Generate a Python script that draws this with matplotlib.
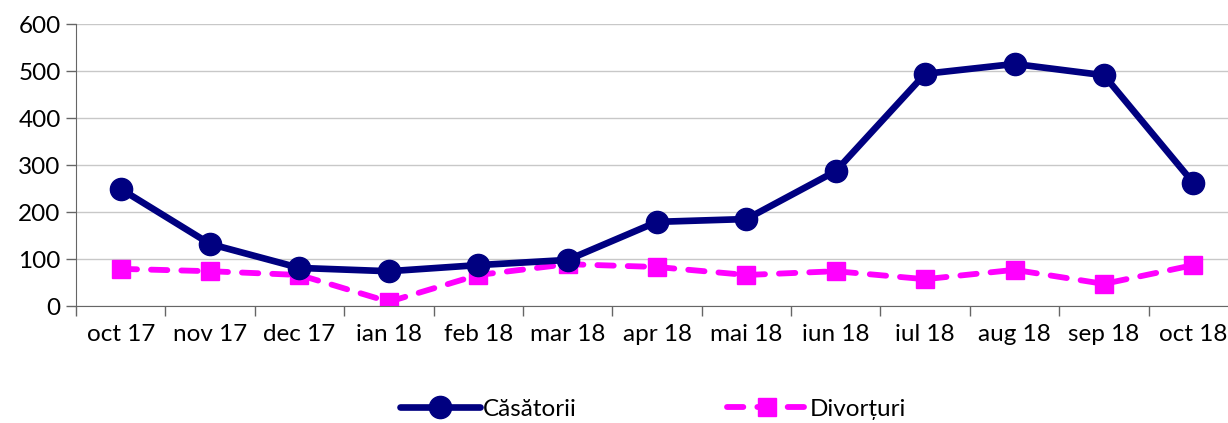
import matplotlib
matplotlib.use("Agg")
import matplotlib.pyplot as plt

categories = ["oct 17", "nov 17", "dec 17", "ian 18", "feb 18", "mar 18", "apr 18",
              "mai 18", "iun 18", "iul 18", "aug 18", "sep 18", "oct 18"]
casatorii = [249, 132, 81, 74, 87, 98, 179, 185, 287, 494, 515, 491, 262]
divorturi = [79, 74, 66, 9, 66, 89, 83, 66, 74, 57, 77, 47, 87]
yticks = [0, 100, 200, 300, 400, 500, 600]

plt.rcParams['font.family'] = ['Lato', 'DejaVu Sans']
W, H = 1228, 423
fig = plt.figure(figsize=(W / 100, H / 100), dpi=100)
ax = fig.add_axes([76 / W, 1 - 306 / H, (1238 - 76) / W, (306 - 24) / H])

x = list(range(len(categories)))
ax.plot(x, casatorii, color="#000080", lw=4.8, marker="o", ms=16, label="Căsătorii",
        solid_capstyle="round", zorder=3)
ax.plot(x, divorturi, color="#FF00FF", lw=4.2, ls=(0, (2.8, 2.4)), marker="s", ms=12.5,
        label="Divorțuri", dash_capstyle="round", zorder=2)

ax.set_xlim(-0.5, len(categories) - 0.5)
ax.set_ylim(0, 600)
ax.set_yticks(yticks)
ax.set_yticklabels([str(v) for v in yticks])
ax.set_xticks([i - 0.5 for i in range(len(categories) + 1)])
ax.set_xticklabels([])
ax.set_xticks(x, minor=True)
ax.set_xticklabels(categories, minor=True)
ax.tick_params(axis="x", which="minor", length=0, pad=13, labelsize=17.5)
ax.tick_params(axis="x", which="major", length=7, width=1, color="#666666", direction="out")
ax.tick_params(axis="y", length=7, width=1, color="#666666", direction="out", labelsize=17.5, pad=4)
ax.grid(axis="y", color="#c8c8c8", lw=1)
ax.set_axisbelow(True)
for s in ["top", "right"]:
    ax.spines[s].set_visible(False)
ax.spines["left"].set_color("#666666")
ax.spines["bottom"].set_color("#666666")

leg = fig.legend(loc="center", bbox_to_anchor=(0.532, 1 - 409 / H), ncol=2, frameon=False,
                 fontsize=17.5, handlelength=3.3, columnspacing=6.2, handletextpad=0.1)

fig.savefig("out.png", dpi=100)
